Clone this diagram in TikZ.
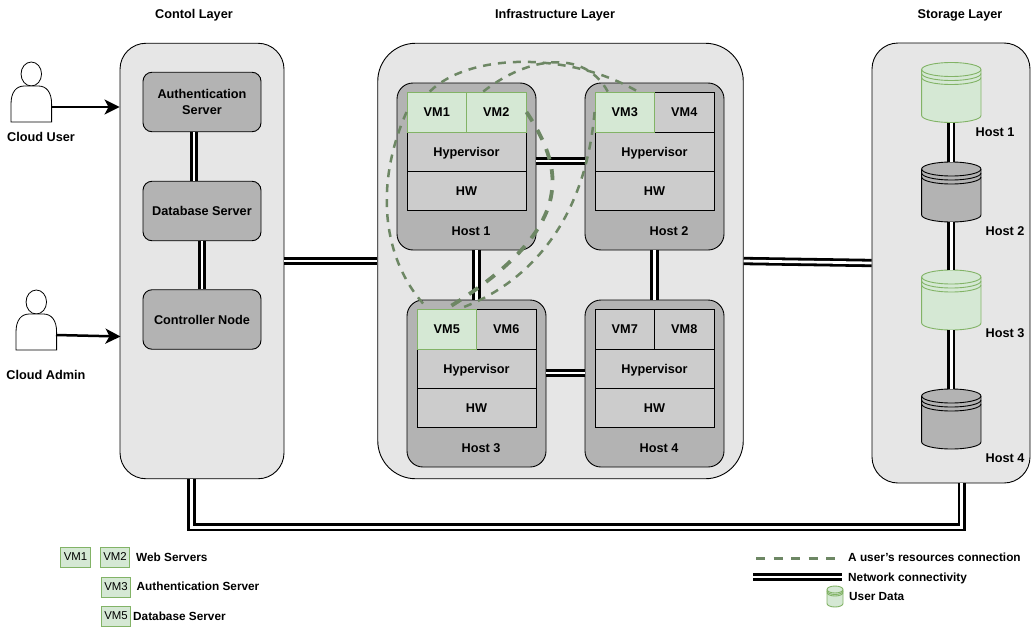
\documentclass[tikz,border=0pt]{standalone}
\usepackage{fontspec}
\setmainfont{Liberation Sans}
\usetikzlibrary{arrows.meta, calc, shapes.geometric}

\definecolor{layergrey}{HTML}{E6E6E6}
\definecolor{boxgrey}{HTML}{B3B3B3}
\definecolor{slotgrey}{HTML}{CCCCCC}
\definecolor{vmgreen}{HTML}{D5E8D4}
\definecolor{vmline}{HTML}{82B366}
\definecolor{pathgreen}{HTML}{6D8764}

\tikzset{
    every node/.style={font=\fontsize{12.7}{16.2}\selectfont\bfseries, align=center, inner sep=0pt, text depth=0pt},
    layerbox/.style={draw, fill=layergrey, line width=0.9pt, rounded corners=#1},
    innerbox/.style={draw, fill=boxgrey, line width=0.9pt, rounded corners=9pt, minimum width=118pt, minimum height=59.5pt},
    hostbox/.style={draw, fill=boxgrey, line width=0.9pt, rounded corners=16pt, minimum width=139pt, minimum height=167pt},
    slotbox/.style={draw, fill=slotgrey, line width=0.9pt, minimum width=119pt, minimum height=39.5pt},
    greyvm/.style={draw, fill=slotgrey, line width=0.9pt, minimum width=59.5pt, minimum height=40pt},
    greenvm/.style={draw=vmline, fill=vmgreen, line width=0.9pt, minimum width=59.5pt, minimum height=40pt},
    keyvm/.style={draw=vmline, fill=vmgreen, line width=0.9pt, minimum width=29.5pt, minimum height=20pt, font=\fontsize{11.4}{13}\selectfont},
    keytext/.style={anchor=west, font=\fontsize{11.8}{14}\selectfont\bfseries},
    netlink/.style={double, double distance=2.7pt, line width=2.8pt},
    userarrow/.style={line width=2.5pt, -{Stealth[length=15pt, width=15pt, inset=4pt]}},
    userpath/.style={pathgreen, line width=2.5pt, dash pattern=on 8pt off 7pt},
    userpathbold/.style={pathgreen, line width=3.8pt, dash pattern=on 11pt off 10pt},
    greendisk/.style={draw=vmline, fill=vmgreen, line width=0.9pt},
    greydisk/.style={draw=black, fill=boxgrey, line width=0.9pt},
}

% name, style, centre x, top y, width, height, ellipse radius, ring step
\newcommand{\datastore}[8]{
    \node[minimum width=#5pt, minimum height=#6pt] (#1) at (#3, #4+#6/2) {};
    \draw[#2] ({#3-#5/2}, #4+#7) -- ({#3-#5/2}, #4+#6-#7)
        arc[start angle=180, end angle=360, x radius=#5/2*1pt, y radius=#7*1pt]
        -- ({#3+#5/2}, #4+#7)
        arc[start angle=0, end angle=180, x radius=#5/2*1pt, y radius=#7*1pt] -- cycle;
    \foreach \ring in {0, 1, 2} {
        \draw[#2, fill=none] ({#3-#5/2}, #4+#7+\ring*#8)
            arc[start angle=180, end angle=360, x radius=#5/2*1pt, y radius=#7*1pt];
    }
}

\begin{document}
\begin{tikzpicture}[x=1pt, y=-1pt]
    \useasboundingbox (0,0) rectangle (1032,626);

    % layers
    \node at (194, 14) {Contol Layer};
    \node at (555, 14) {Infrastructure Layer};
    \node at (960, 14) {Storage Layer};
    \node[layerbox=26pt, minimum width=164pt, minimum height=435.5pt] (control) at (202, 261) {};
    \node[layerbox=38pt, minimum width=365.5pt, minimum height=435.5pt] (infra) at (560.5, 261) {};
    \node[layerbox=26pt, minimum width=158pt, minimum height=440pt] (storage) at (951, 263) {};

    % control layer
    \node[innerbox] (auth) at (202, 102) {Authentication\\Server};
    \node[innerbox] (database) at (202, 211) {Database Server};
    \node[innerbox] (controller) at (202, 319.5) {Controller Node};
    \draw[netlink] ([xshift=-8pt]auth.south) -- ([xshift=-8pt]database.north);
    \draw[netlink] (database.south) -- (controller.north);

    % users
    \foreach \name/\x/\ytop in {user/31.3/62, admin/36.3/290} {
        \node[draw, ellipse, fill=white, line width=0.8pt, minimum width=20.5pt, minimum height=24pt] (\name) at (\x, \ytop+12) {};
        \draw[fill=white, line width=0.8pt] (\x-20.3, \ytop+60) -- (\x-20.3, \ytop+42)
            .. controls (\x-20.3, \ytop+30) and (\x-15, \ytop+24) .. (\x-7, \ytop+24)
            -- (\x+7, \ytop+24)
            .. controls (\x+15, \ytop+24) and (\x+20.3, \ytop+30) .. (\x+20.3, \ytop+42)
            -- (\x+20.3, \ytop+60) -- cycle;
    }
    \node at (41, 137) {Cloud User};
    \node at (46, 375) {Cloud Admin};
    \coordinate (userout) at (51.6, 107);
    \coordinate (adminout) at (56, 335);
    \coordinate (adminin) at (120.5, 336.5);
    \draw[userarrow] (userout) -- (userout -| control.west);
    \draw[userarrow] (adminout) -- (adminin);

    % hosts
    \foreach \n/\x/\y/\lx/\vma/\vmb/\stylea/\styleb in {
        1/466.5/166.5/471/1/2/greenvm/greenvm,
        2/654.5/166.5/669/3/4/greenvm/greyvm,
        3/476.5/383.5/481/5/6/greenvm/greyvm,
        4/654.5/383.5/659/7/8/greyvm/greyvm} {
        \node[hostbox] (host\n) at (\x, \y) {};
        \node (hostname\n) at (\lx, \y+65) {Host \n};
        \node[slotbox] (hw\n) at (\x, \y+24.5) {HW};
        \node[slotbox] (hyp\n) at (\x, \y-15) {Hypervisor};
        \node[\styleb] (vm\vmb) at (\x+29.75, \y-54.5) {VM\vmb};
        \node[\stylea] (vm\vma) at (\x-29.75, \y-54.5) {VM\vma};
    }
    \draw[netlink] ([yshift=5.5pt]host1.east) -- ([yshift=5.5pt]host2.west);
    \draw[netlink] (host1.south -| host3.north) -- (host3.north);
    \draw[netlink] (host2.south) -- (host4.north);
    \draw[netlink] ([yshift=10.5pt]host3.east) -- ([yshift=10.5pt]host4.west);
    \draw[netlink] (control.east) -- (infra.west);
    \draw[netlink] (infra.east) -- (storage.west);

    % storage layer
    \datastore{disk1}{greendisk}{951.3}{62.5}{59.3}{60}{7}{4}
    \datastore{disk2}{greydisk}{951.3}{162}{59.3}{60}{7}{4}
    \datastore{disk3}{greendisk}{951.3}{270}{59.3}{60}{7}{4}
    \datastore{disk4}{greydisk}{951.3}{389}{59.3}{60}{7}{4}
    \draw[netlink] (disk1.south) -- (disk2.north);
    \draw[netlink] (disk2.south) -- (disk3.north);
    \draw[netlink] (disk3.south) -- (disk4.north);
    \node at (995, 132) {Host 1};
    \node at (1005, 231) {Host 2};
    \node at (1005, 333) {Host 3};
    \node at (1005, 458) {Host 4};

    % link under the layers
    \draw[netlink] ([xshift=-10.5pt]control.south) -- ++(0, 48) -| ([xshift=10.7pt]storage.south);

    % resources of one user
    \draw[userpath] ([xshift=-7pt]vm1.north) .. controls (470, 52) and (570, 52) .. ([xshift=13pt]vm3.north);
    \draw[userpath] ([xshift=-13pt]vm2.north) .. controls (530, 55) and (585, 50) .. ([xshift=-17pt]vm3.north);
    \draw[userpath] (vm3.west) .. controls (585, 225) and (525, 285) .. ([xshift=13pt]vm5.north);
    \draw[userpathbold] (vm2.east) .. controls (545, 140) and (555, 165) .. (552, 190)
        .. controls (548, 230) and (510, 270) .. (vm5.north);
    \draw[userpath] (vm1.west) .. controls (372, 190) and (385, 265) .. ([xshift=-19pt]vm5.north);

    % legend
    \node[keyvm] (keyvm1) at (75.5, 557) {VM1};
    \node[keyvm] (keyvm2) at (115, 557) {VM2};
    \node[keyvm] (keyvm3) at (116, 587) {VM3};
    \node[keyvm] (keyvm5) at (116, 616) {VM5};
    \node[keytext] at (136, 557) {Web Servers};
    \node[keytext] at (136.5, 586) {Authentication Server};
    \node[keytext] at (133, 616) {Database Server};
    \coordinate (dashfrom) at (756, 558);
    \coordinate (dashto) at (838, 558);
    \coordinate (netfrom) at (753, 577);
    \coordinate (netto) at (842, 577);
    \draw[pathgreen, line width=3pt, dash pattern=on 9pt off 8.5pt] (dashfrom) -- (dashto);
    \draw[netlink] (netfrom) -- (netto);
    \datastore{keydisk}{greendisk}{835}{586}{16}{21}{3.5}{1.5}
    \node[keytext] at (848, 557) {A user's resources connection};
    \node[keytext] at (848, 577) {Network connectivity};
    \node[keytext] at (849, 596) {User Data};
\end{tikzpicture}
\end{document}
